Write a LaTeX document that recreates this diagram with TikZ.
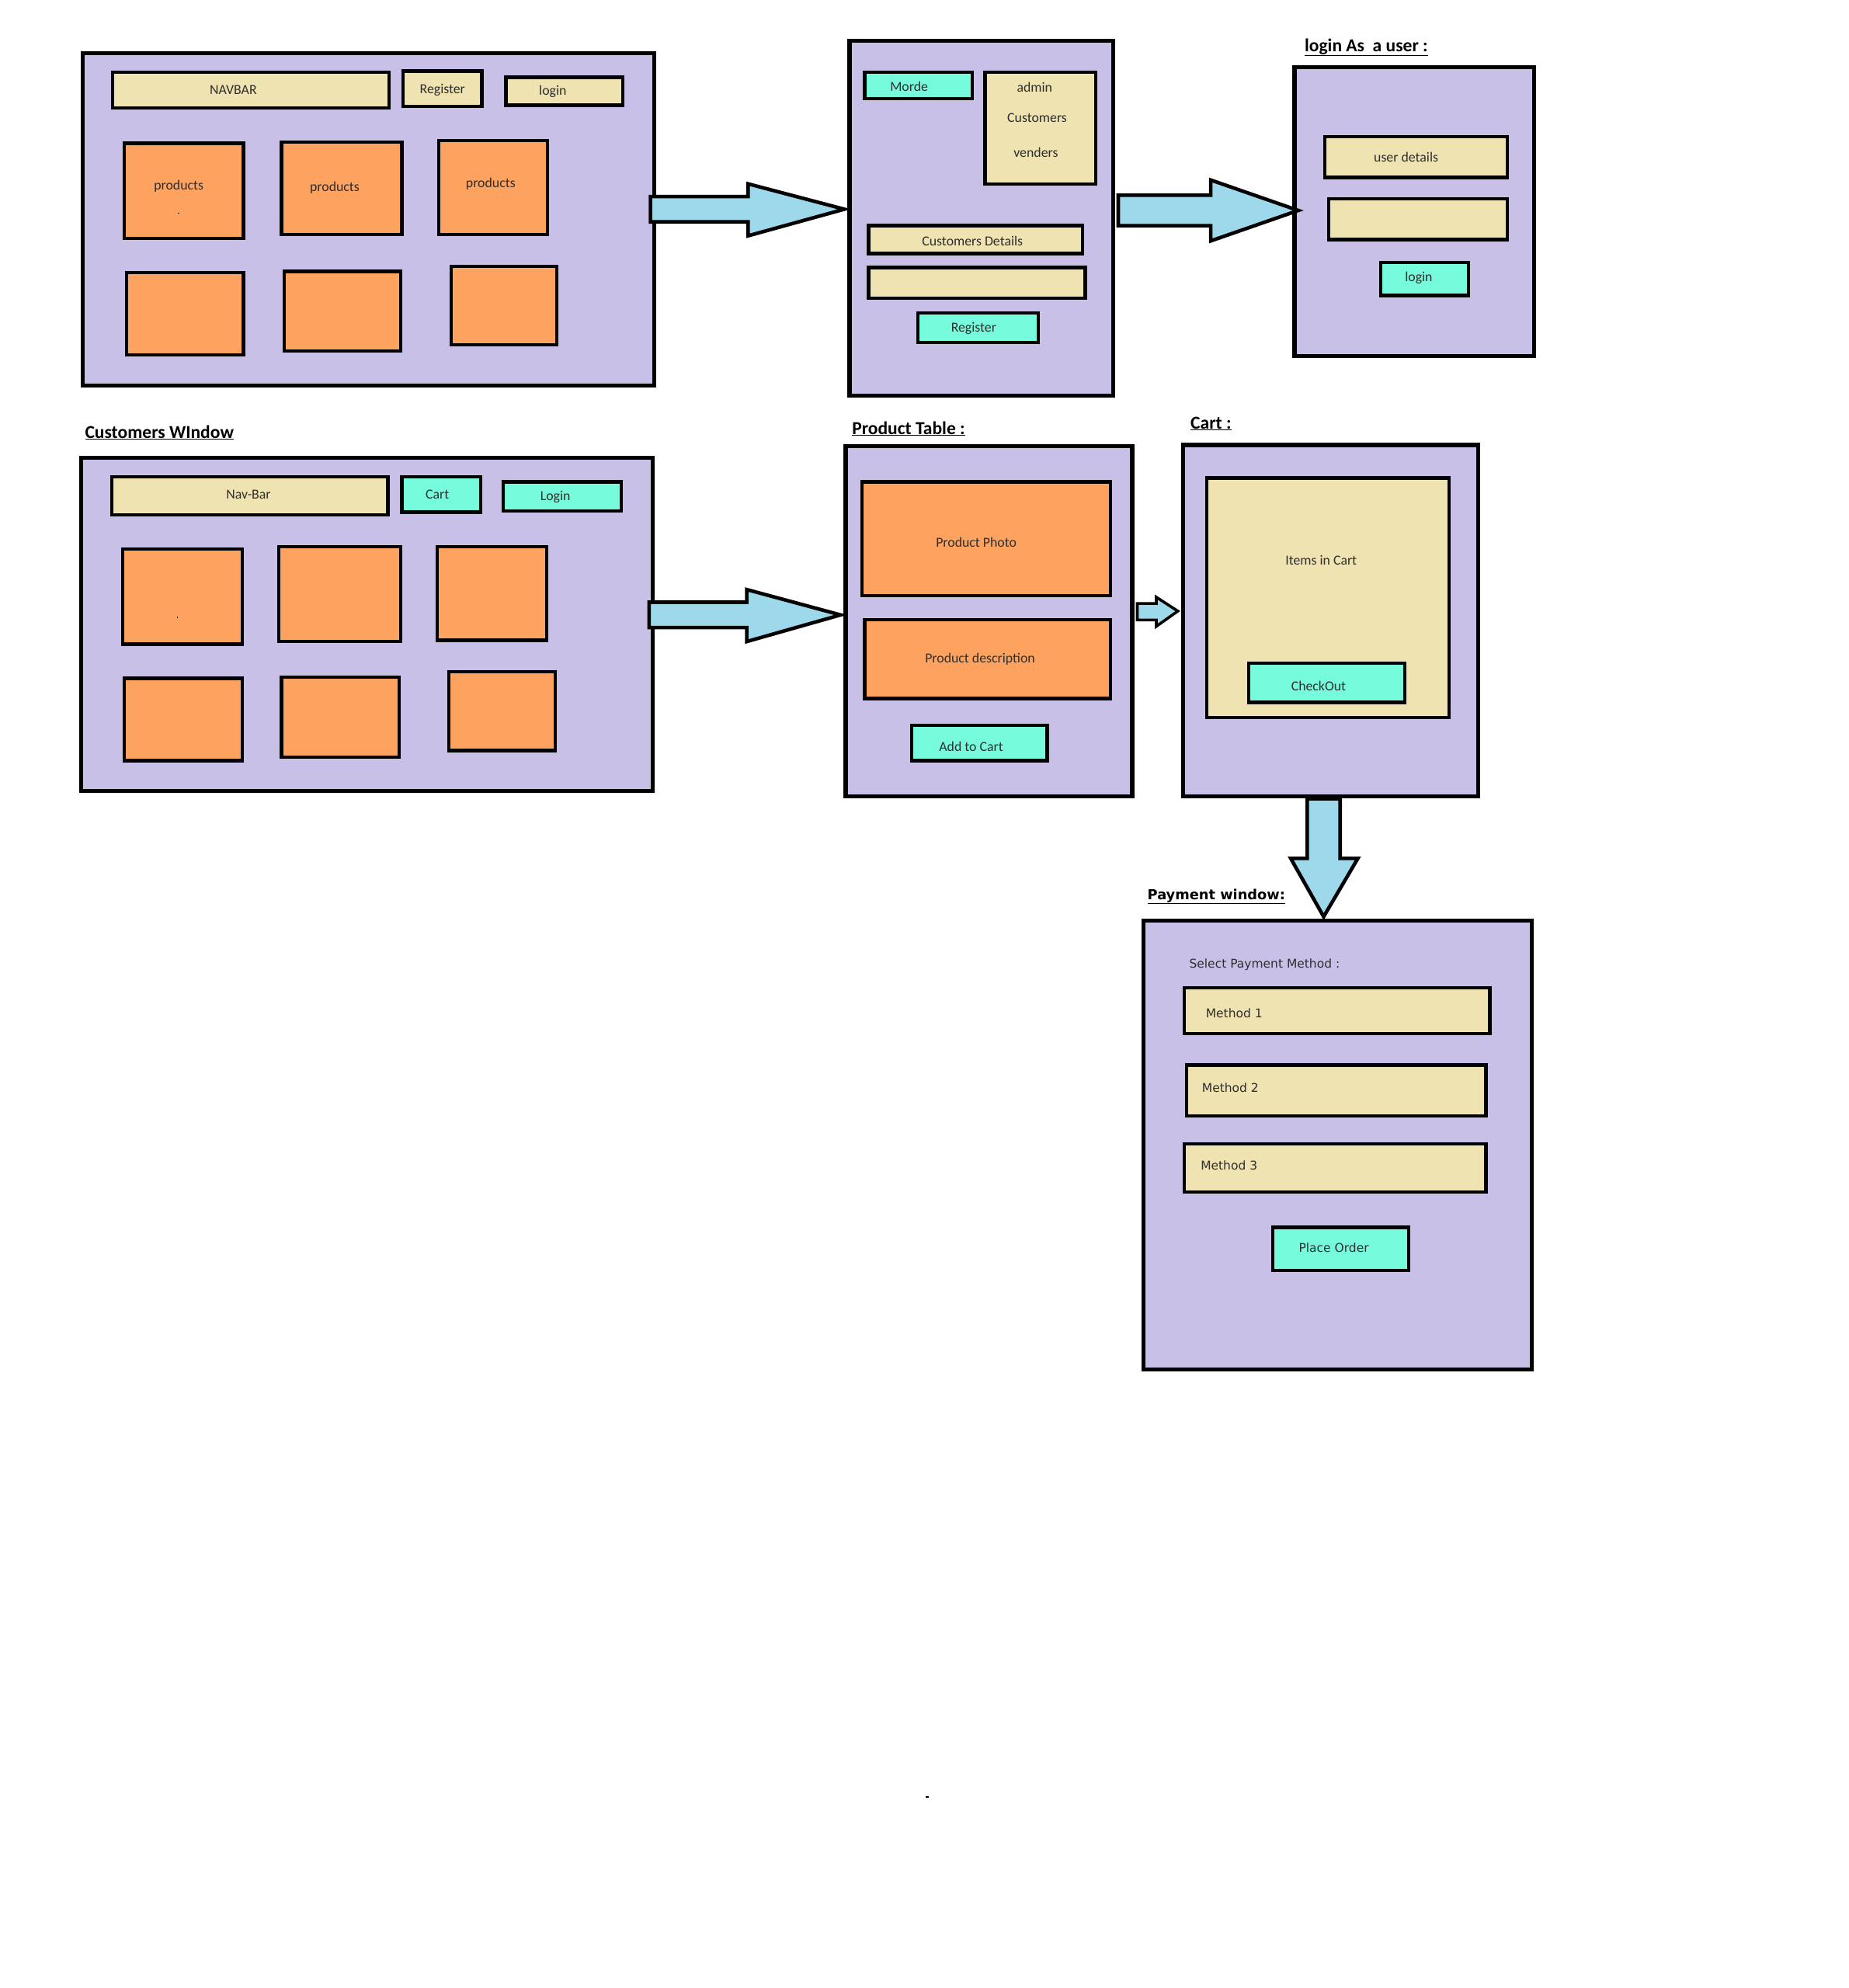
\documentclass[tikz,border=0pt]{standalone}
\usepackage{fontspec}
\setmainfont{Carlito}
\newfontfamily\vfont{DejaVu Sans}
\usetikzlibrary{fit}

\definecolor{lav}{HTML}{C8C0E6}
\definecolor{cream}{HTML}{EFE3B1}
\definecolor{peach}{HTML}{FDA35F}
\definecolor{mint}{HTML}{76FCDC}
\definecolor{sky}{HTML}{9DD9EA}
\definecolor{ink}{HTML}{2E2E2E}

\tikzset{
  win/.style={draw=black, line width=3.2mm, fill=lav, inner sep=0pt, outer sep=0pt},
  part/.style={draw=black, line width=2.6mm, inner sep=0pt, outer sep=0pt},
  fld/.style={part, fill=cream},
  btn/.style={part, fill=mint},
  card/.style={part, fill=peach},
  lbl/.style={text=ink, inner sep=0pt, yshift=-1mm, font=\fontsize{31}{36}\selectfont},
  plbl/.style={text=ink, inner sep=0pt, yshift=-1mm, font=\vfont\fontsize{27}{32}\selectfont},
  ttl/.style={text=black, inner sep=0pt, anchor=west, yshift=-1mm, font=\bfseries\fontsize{41}{48}\selectfont},
  pttl/.style={text=black, inner sep=0pt, anchor=west, yshift=-1mm, font=\vfont\bfseries\fontsize{31}{36}\selectfont},
  blockarrow/.style={draw=black, line width=2.8mm, fill=sky, line join=miter},
  speck/.style={fill=black, draw=none},
}

\begin{document}
\begin{tikzpicture}[x=1mm, y=-1mm]
\fill[white] (0,0) rectangle (1458,1568);
\useasboundingbox (0,0) rectangle (1458,1568);

% ---------- home page ----------
\node[win, fit={(65,42) (516,304)}] (home) {};
\node[fld, fit={(89,57) (307,85)}] (homeNav) {};
\node[fld, fit={(318,56) (380,84)}] (homeReg) {};
\node[fld, fit={(399,61) (491,83)}] (homeLogin) {};
\node[lbl] (tNav) at (184,70) {NAVBAR};
\node[lbl] (tReg) at (349,70) {Register};
\node[lbl] (tLogin) at (436,71) {login};
\node[card, fit={(98,113) (192,188)}] (hp1) {};
\node[card, fit={(222,112) (317,185)}] (hp2) {};
\node[card, fit={(346,111) (432,185)}] (hp3) {};
\node[card, fit={(100,215) (192,280)}] (hp4) {};
\node[card, fit={(224,214) (316,277)}] (hp5) {};
\node[card, fit={(356,210) (439,272)}] (hp6) {};
\node[lbl] (tp1) at (141,146) {products};
\node[lbl] (tp2) at (264,147) {products};
\node[lbl] (tp3) at (387,144) {products};
\fill[speck] (140.4,167.6) rectangle (141.4,168.6);

% ---------- admin panel ----------
\node[win, fit={(670,32) (878,312)}] (admin) {};
\node[btn, fit={(682,57) (767,78)}] (morde) {};
\node[lbl] (tMorde) at (717,67) {Morde};
\node[fld, fit={(777,57) (864,145)}] (roles) {};
\node[lbl] (tAdmin) at (816,68) {admin};
\node[lbl] (tCust) at (818,92) {Customers};
\node[lbl] (tVend) at (817,119) {venders};
\node[fld, fit={(685,178) (854,200)}] (custDet) {};
\node[lbl] (tCustDet) at (767,189) {Customers Details};
\node[fld, fit={(685,211) (856,235)}] (custExtra) {};
\node[btn, fit={(724,247) (819,270)}] (regBtn) {};
\node[lbl] (tRegBtn) at (768,258) {Register};

% ---------- user login ----------
\node[ttl] (tUserLogin) at (1029,36) {\underline{login As\ \ a user :}};
\node[win, fit={(1021,53) (1210,281)}] (userLogin) {};
\node[fld, fit={(1045,108) (1189,140)}] (userDet) {};
\node[lbl] (tUserDet) at (1109,123) {user details};
\node[fld, fit={(1048,157) (1189,189)}] (userPass) {};
\node[btn, fit={(1089,207) (1158,233)}] (loginBtn) {};
\node[lbl] (tLoginBtn) at (1119,218) {login};

% ---------- customers window ----------
\node[ttl] (tCustWin) at (67,340) {\underline{Customers WIndow}};
\node[win, fit={(64,361) (515,624)}] (custWin) {};
\node[fld, fit={(88,376) (306,406)}] (cNav) {};
\node[lbl] (tcNav) at (196,389) {Nav-Bar};
\node[btn, fit={(317,376) (379,404)}] (cCart) {};
\node[lbl] (tcCart) at (345,389) {Cart};
\node[btn, fit={(397,380) (490,403)}] (cLogin) {};
\node[lbl] (tcLogin) at (438,391) {Login};
\node[card, fit={(97,433) (191,508)}] (cp1) {};
\node[card, fit={(220,431) (316,506)}] (cp2) {};
\node[card, fit={(345,431) (431,505)}] (cp3) {};
\node[card, fit={(98,535) (191,600)}] (cp4) {};
\node[card, fit={(222,534) (315,597)}] (cp5) {};
\node[card, fit={(354,530) (438,592)}] (cp6) {};
\fill[speck] (139.5,486.5) rectangle (140.5,487.5);

% ---------- product table ----------
\node[ttl] (tProdTab) at (672,337) {\underline{Product Table :}};
\node[win, fit={(667,352) (893,628)}] (prodTab) {};
\node[card, fit={(680,380) (876,470)}] (photo) {};
\node[lbl] (tPhoto) at (770,427) {Product Photo};
\node[card, fit={(682,489) (876,551)}] (descr) {};
\node[lbl] (tDescr) at (773,519) {Product description};
\node[btn, fit={(719,572) (826,600)}] (addCart) {};
\node[lbl] (tAddCart) at (766,588) {Add to Cart};

% ---------- cart ----------
\node[ttl] (tCartTitle) at (939,333) {\underline{Cart :}};
\node[win, fit={(933,351) (1166,628)}] (cart) {};
\node[fld, fit={(952,377) (1143,566)}] (items) {};
\node[lbl] (tItems) at (1042,441) {Items in Cart};
\node[btn, fit={(985,523) (1108,554)}] (checkout) {};
\node[lbl] (tCheckout) at (1040,540) {CheckOut};

% ---------- payment window ----------
\node[pttl] (tPay) at (905,706) {\underline{Payment window:}};
\node[win, fit={(902,726) (1208,1080)}] (pay) {};
\node[plbl, anchor=west] (tSelect) at (938,760) {Select Payment Method :};
\node[fld, fit={(934,779) (1175,815)}] (m1) {};
\node[plbl, anchor=west] (tm1) at (951,798) {Method 1};
\node[fld, fit={(936,840) (1172,880)}] (m2) {};
\node[plbl, anchor=west] (tm2) at (948,857) {Method 2};
\node[fld, fit={(934,902) (1172,940)}] (m3) {};
\node[plbl, anchor=west] (tm3) at (947,918) {Method 3};
\node[btn, fit={(1004,968) (1111,1002)}] (order) {};
\node[plbl] (tOrder) at (1052,983) {Place Order};

% ---------- flow arrows ----------
\draw[blockarrow] (513,155) -- (590,155) -- (590,145) -- (666,165)
  -- (590,186) -- (590,175) -- (513,175) -- cycle;
\draw[blockarrow] (882,154) -- (955,154) -- (955,142) -- (1024,166)
  -- (955,190) -- (955,178) -- (882,178) -- cycle;
\draw[blockarrow] (512,475) -- (589,475) -- (589,465) -- (663,485)
  -- (589,506) -- (589,495) -- (512,495) -- cycle;
\draw[blockarrow, line width=2.2mm] (897,476) -- (912,476) -- (912,471) -- (929,482)
  -- (912,494) -- (912,489) -- (897,489) -- cycle;
\draw[blockarrow] (1031,630) -- (1031,677) -- (1018,677) -- (1044,723)
  -- (1071,677) -- (1057,677) -- (1057,630) -- cycle;

% stray mark
\fill[speck] (730,1416.5) rectangle (732.5,1418);
\end{tikzpicture}
\end{document}
